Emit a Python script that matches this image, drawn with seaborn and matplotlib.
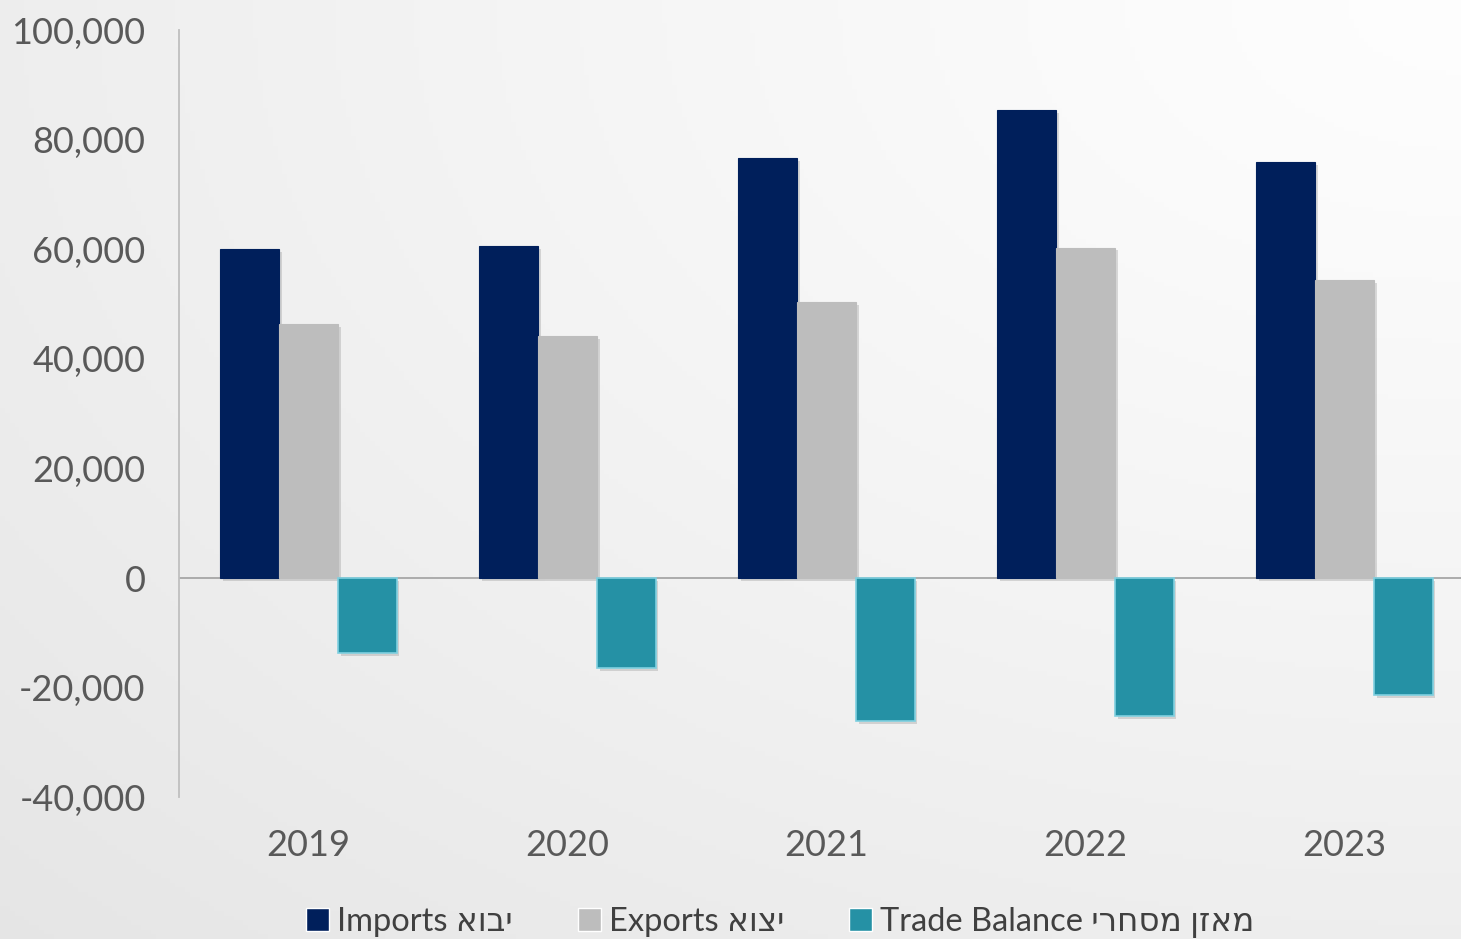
import matplotlib
matplotlib.use("Agg")
import matplotlib.pyplot as plt
import matplotlib.patheffects as pe
from matplotlib.patches import Patch
from matplotlib.ticker import FuncFormatter
import numpy as np
import pandas as pd
import seaborn as sns

YEARS = ["2019", "2020", "2021", "2022", "2023"]
IMPORTS = [60000, 60500, 76600, 85400, 75900]
EXPORTS = [46400, 44100, 50300, 60300, 54300]
BALANCE = [-13700, -16500, -26100, -25200, -21400]

SERIES = ["Imports " + "יבוא"[::-1],
          "Exports " + "יצוא"[::-1],
          "Trade Balance " + "מאזן מסחרי"[::-1]]
COLORS = ["#001f5b", "#bdbdbd", "#2591a5"]


def main() -> None:
    sns.set_theme(style="white")
    plt.rcParams["font.family"] = ["Lato", "DejaVu Sans"]

    df = pd.DataFrame({
        "year": YEARS * 3,
        "value": IMPORTS + EXPORTS + BALANCE,
        "series": [SERIES[0]] * 5 + [SERIES[1]] * 5 + [SERIES[2]] * 5,
    })

    fig = plt.figure(figsize=(14.61, 9.39), dpi=100)

    # background gradient, white top-right to light gray bottom-left
    bg = fig.add_axes([0, 0, 1, 1], zorder=-10)
    yy, xx = np.mgrid[0:1:200j, 0:1:300j]
    d = np.sqrt((1 - xx) ** 2 + (1 - yy) ** 2) / np.sqrt(2)
    shade = 0.995 - 0.095 * np.clip(d, 0, 1) ** 1.2
    bg.imshow(np.dstack([shade] * 3), origin="lower", aspect="auto", extent=[0, 1, 0, 1])
    bg.axis("off")

    ax = fig.add_axes([0.1225, 0.151, 0.8775, 0.817])
    ax.patch.set_alpha(0)
    sns.barplot(data=df, x="year", y="value", hue="series", palette=COLORS,
                saturation=1, width=0.68, ax=ax, legend=False, zorder=3)

    for i, bar in enumerate(ax.patches):
        bar.set_linewidth(1.2 if i >= 10 else 0.8)
        bar.set_edgecolor("#7fd0e0" if i >= 10 else bar.get_facecolor())
        bar.set_path_effects([pe.SimplePatchShadow(offset=(2, -2), alpha=0.2, shadow_rgbFace="#555555"),
                              pe.Normal()])

    ax.set_ylim(-40000, 100000)
    ax.set_xlim(-0.5, 4.45)
    ax.set_yticks(range(-40000, 100001, 20000))
    ax.yaxis.set_major_formatter(FuncFormatter(lambda v, p: f"{int(v):,}"))
    ax.axhline(0, color="#a6a6a6", linewidth=1.3, zorder=2)

    for side in ["top", "right", "bottom"]:
        ax.spines[side].set_visible(False)
    ax.spines["left"].set_color("#bfbfbf")
    ax.spines["left"].set_linewidth(1.3)

    ax.tick_params(axis="y", labelsize=26, labelcolor="#595959", length=0, pad=24)
    ax.tick_params(axis="x", labelsize=26, labelcolor="#595959", length=0, pad=23)
    ax.set_xlabel("")
    ax.set_ylabel("")

    handles = [Patch(facecolor=c) for c in COLORS]
    fig.legend(handles, SERIES, loc="center", bbox_to_anchor=(0.534, 0.018),
               ncol=3, frameon=False, fontsize=23.5, labelcolor="#404040",
               handlelength=0.7, handleheight=0.7, handletextpad=0.25,
               columnspacing=2.0)

    fig.savefig("out.png", dpi=100)
    plt.close(fig)


if __name__ == "__main__":
    main()
